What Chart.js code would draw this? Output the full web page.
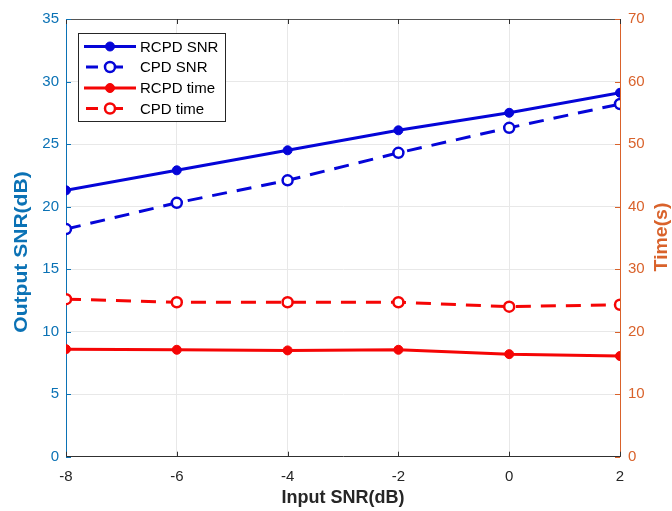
<!DOCTYPE html>
<html>
<head>
<meta charset="utf-8">
<script src="https://cdn.jsdelivr.net/npm/chart.js@4/dist/chart.umd.min.js"></script>
<style>
  html, body { margin: 0; padding: 0; background: #ffffff; }
  #c { display: block; }
</style>
</head>
<body>
<canvas id="c" width="672" height="511"></canvas>
<script>
// ---- data ----
const inputSnr = [-8, -6, -4, -2, 0, 2];
const rcpdSnr  = [21.3, 22.9, 24.5, 26.1, 27.5, 29.1];
const cpdSnr   = [18.2, 20.3, 22.1, 24.3, 26.3, 28.2];
const rcpdTime = [17.2, 17.1, 17.0, 17.1, 16.4, 16.1];
const cpdTime  = [25.2, 24.7, 24.7, 24.7, 24.0, 24.3];

const xTicks     = [-8, -6, -4, -2, 0, 2];
const leftTicks  = [0, 5, 10, 15, 20, 25, 30, 35];
const rightTicks = [0, 10, 20, 30, 40, 50, 60, 70];

const seriesLabels = ['RCPD SNR', 'CPD SNR', 'RCPD time', 'CPD time'];
const xTitle = 'Input SNR(dB)';
const leftTitle = 'Output SNR(dB)';
const rightTitle = 'Time(s)';

// ---- styles ----
const BLUE = '#0505d8';
const RED = '#f50505';
const LEFT_COLOR = '#0b72b5';
const RIGHT_COLOR = '#d9622b';
const AXIS_DARK = '#303030';
const GRID = '#e8e8e8';
const FONT = "'Liberation Sans', Arial, Helvetica, sans-serif";

function pts(ys) { return inputSnr.map((x, i) => ({ x: x, y: ys[i] })); }

function ds(label, ys, color, dashed, axis) {
  return {
    label: label,
    data: pts(ys),
    yAxisID: axis,
    borderColor: color,
    borderWidth: 3,
    borderDash: dashed ? [15, 10] : [],
    pointRadius: dashed ? 5 : 4.5,
    pointBorderWidth: dashed ? 2.5 : 1,
    pointBackgroundColor: dashed ? '#ffffff' : color,
    pointBorderColor: color,
    fill: false,
    tension: 0
  };
}

const overlay = {
  id: 'overlay',
  afterDraw(chart) {
    const ctx = chart.ctx;
    const a = chart.chartArea;
    const sx = chart.scales.x, sy = chart.scales.y, sy1 = chart.scales.y1;
    ctx.save();
    // top box line
    ctx.strokeStyle = '#555555';
    ctx.lineWidth = 1;
    ctx.beginPath();
    ctx.moveTo(a.left, a.top + 0.5);
    ctx.lineTo(a.right, a.top + 0.5);
    ctx.stroke();
    // inward ticks
    const tl = 5;
    ctx.strokeStyle = AXIS_DARK;
    ctx.beginPath();
    xTicks.forEach(v => {
      const px = Math.round(sx.getPixelForValue(v)) + 0.5;
      ctx.moveTo(px, a.bottom); ctx.lineTo(px, a.bottom - tl);
      ctx.moveTo(px, a.top); ctx.lineTo(px, a.top + tl);
    });
    ctx.stroke();
    ctx.strokeStyle = LEFT_COLOR;
    ctx.beginPath();
    leftTicks.forEach(v => {
      const py = Math.round(sy.getPixelForValue(v)) + 0.5;
      ctx.moveTo(a.left, py); ctx.lineTo(a.left + tl, py);
    });
    ctx.stroke();
    ctx.strokeStyle = RIGHT_COLOR;
    ctx.beginPath();
    rightTicks.forEach(v => {
      const py = Math.round(sy1.getPixelForValue(v)) + 0.5;
      ctx.moveTo(a.right, py); ctx.lineTo(a.right - tl, py);
    });
    ctx.stroke();

    // axis titles
    ctx.textAlign = 'center';
    ctx.textBaseline = 'middle';
    ctx.fillStyle = '#262626';
    ctx.font = 'bold 18px ' + FONT;
    ctx.fillText(xTitle, (a.left + a.right) / 2, 498);

    ctx.save();
    ctx.translate(22, 252);
    ctx.rotate(-Math.PI / 2);
    ctx.scale(1.17, 1);
    ctx.fillStyle = LEFT_COLOR;
    ctx.font = 'bold 18px ' + FONT;
    ctx.fillText(leftTitle, 0, 0);
    ctx.restore();

    ctx.save();
    ctx.translate(662, 237);
    ctx.rotate(-Math.PI / 2);
    ctx.scale(1.08, 1);
    ctx.fillStyle = RIGHT_COLOR;
    ctx.font = 'bold 18px ' + FONT;
    ctx.fillText(rightTitle, 0, 0);
    ctx.restore();

    // legend box
    const bx = 78.5, by = 33.5, bw = 147, bh = 88;
    ctx.fillStyle = '#ffffff';
    ctx.fillRect(bx, by, bw, bh);
    ctx.strokeStyle = '#262626';
    ctx.lineWidth = 1;
    ctx.strokeRect(bx, by, bw, bh);
    const rows = [46.5, 67, 88, 108.5];
    chart.data.datasets.forEach((d, i) => {
      const y = rows[i];
      const dashed = d.borderDash && d.borderDash.length > 0;
      ctx.strokeStyle = d.borderColor;
      ctx.lineWidth = 3;
      ctx.beginPath();
      if (dashed) {
        ctx.moveTo(86, y); ctx.lineTo(98, y);
        ctx.moveTo(116, y); ctx.lineTo(123, y);
      } else {
        ctx.moveTo(84, y); ctx.lineTo(136, y);
      }
      ctx.stroke();
      ctx.beginPath();
      ctx.arc(110, y, d.pointRadius, 0, Math.PI * 2);
      ctx.fillStyle = d.pointBackgroundColor;
      ctx.fill();
      ctx.lineWidth = d.pointBorderWidth;
      ctx.strokeStyle = d.pointBorderColor;
      ctx.stroke();
      ctx.fillStyle = '#000000';
      ctx.font = '15px ' + FONT;
      ctx.textAlign = 'left';
      ctx.textBaseline = 'middle';
      ctx.fillText(d.label, 140, y + 1);
    });
    ctx.restore();
  }
};

new Chart(document.getElementById('c'), {
  type: 'line',
  data: {
    datasets: [
      ds(seriesLabels[0], rcpdSnr, BLUE, false, 'y'),
      ds(seriesLabels[1], cpdSnr, BLUE, true, 'y'),
      ds(seriesLabels[2], rcpdTime, RED, false, 'y1'),
      ds(seriesLabels[3], cpdTime, RED, true, 'y1')
    ]
  },
  options: {
    responsive: false,
    animation: false,
    layout: { padding: { top: 19, left: 0, right: 0, bottom: 0 } },
    plugins: {
      legend: { display: false },
      tooltip: { enabled: false },
      title: { display: false }
    },
    scales: {
      x: {
        type: 'linear',
        min: -8, max: 2,
        afterBuildTicks: s => { s.ticks = xTicks.map(v => ({ value: v })); },
        afterFit: s => { s.height = 54.3; },
        ticks: { color: '#262626', font: { family: FONT, size: 15 }, padding: 11, maxRotation: 0, autoSkip: false },
        grid: { color: GRID, drawTicks: false },
        border: { color: AXIS_DARK, width: 1 }
      },
      y: {
        position: 'left',
        min: 0, max: 35,
        afterBuildTicks: s => { s.ticks = leftTicks.map(v => ({ value: v })); },
        afterFit: s => { s.width = 66; },
        ticks: { color: LEFT_COLOR, font: { family: FONT, size: 15 }, padding: 7 },
        grid: { color: GRID, drawTicks: false },
        border: { color: LEFT_COLOR, width: 1 }
      },
      y1: {
        position: 'right',
        min: 0, max: 70,
        afterBuildTicks: s => { s.ticks = rightTicks.map(v => ({ value: v })); },
        afterFit: s => { s.width = 52; },
        ticks: { color: RIGHT_COLOR, font: { family: FONT, size: 15 }, padding: 8 },
        grid: { drawOnChartArea: false, drawTicks: false },
        border: { color: RIGHT_COLOR, width: 1 }
      }
    }
  },
  plugins: [overlay]
});
</script>
</body>
</html>
